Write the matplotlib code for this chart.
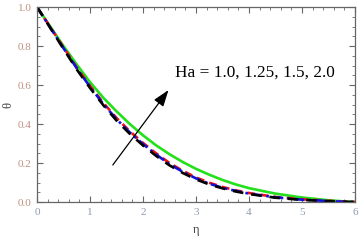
import matplotlib
matplotlib.use("Agg")
import matplotlib.pyplot as plt
from matplotlib.ticker import MultipleLocator

eta = [0, 0.25, 0.5, 0.75, 1.0, 1.25, 1.5, 1.75, 2.0, 2.25, 2.5, 2.75, 3.0, 3.25, 3.5, 3.75, 4.0, 4.5, 5.0, 5.5, 5.8, 6.0]
theta_ha_10 = [1.0, 0.893, 0.785, 0.68, 0.585, 0.497, 0.418, 0.35, 0.29, 0.236, 0.188, 0.149, 0.116, 0.09, 0.07, 0.054, 0.041, 0.022, 0.011, 0.004, 0.001, 0.0]
theta_ha_125 = [1.0, 0.895, 0.789, 0.686, 0.591, 0.503, 0.425, 0.357, 0.297, 0.243, 0.194, 0.155, 0.121, 0.094, 0.073, 0.057, 0.043, 0.024, 0.012, 0.005, 0.001, 0.0]
theta_ha_15 = [1.0, 0.897, 0.793, 0.69, 0.596, 0.509, 0.431, 0.363, 0.303, 0.249, 0.2, 0.16, 0.126, 0.099, 0.077, 0.06, 0.046, 0.026, 0.014, 0.006, 0.002, 0.0]
theta_ha_20 = [1.0, 0.90, 0.80, 0.705, 0.615, 0.535, 0.465, 0.40, 0.342, 0.29, 0.245, 0.205, 0.17, 0.14, 0.113, 0.09, 0.071, 0.043, 0.023, 0.009, 0.003, 0.0]
label_text = "Ha = 1.0, 1.25, 1.5, 2.0"

fig = plt.figure(figsize=(3.61, 2.41), dpi=100)
ax = fig.add_axes([0.1025, 0.1618, 0.881, 0.809])

ax.plot(eta, theta_ha_20, color="#22e01a", lw=1.9)
ax.plot(eta, theta_ha_15, color="#ee1111", lw=1.9, dashes=(3, 2))
ax.plot(eta, theta_ha_125, color="#1111dd", lw=1.9, dashes=(4, 1.5, 1, 1.5))
ax.plot(eta, theta_ha_10, color="black", lw=1.9, dashes=(4, 3))

ax.annotate("", xy=(2.48, 0.574), xytext=(1.43, 0.19),
            arrowprops=dict(arrowstyle="-|>,head_length=1.0,head_width=0.35",
                            color="black", lw=0.9, shrinkA=0, shrinkB=0))
ax.text(2.6, 0.665, label_text, fontsize=12.4, family="Liberation Serif",
        va="center", ha="left")

ax.set_xlim(0, 6)
ax.set_ylim(0, 1.0)
ax.xaxis.set_minor_locator(MultipleLocator(0.2))
ax.yaxis.set_minor_locator(MultipleLocator(0.05))
ax.set_xticks([0, 1, 2, 3, 4, 5, 6])
ax.set_xticklabels(["0", "1", "2", "3", "4", "5", "6"])
ax.set_yticks([0, 0.2, 0.4, 0.6, 0.8, 1.0])
ax.set_yticklabels(["0.0", "0.2", "0.4", "0.6", "0.8", "1.0"])
for lab in ax.get_xticklabels():
    lab.set_fontfamily("Liberation Serif")
    lab.set_fontsize(8)
for lab in ax.get_yticklabels():
    lab.set_fontfamily("Liberation Serif")
    lab.set_fontsize(8)

ax.tick_params(which="both", direction="in", top=True, right=True, colors="#666666")
ax.tick_params(which="major", length=4, width=0.8, pad=4)
ax.tick_params(which="minor", length=2.2, width=0.6)
ax.tick_params(axis="x", labelcolor="#8f9ab0")
ax.tick_params(axis="y", labelcolor="#c09080", pad=4)
for s in ax.spines.values():
    s.set_color("#666666")
    s.set_linewidth(0.9)

ax.set_xlabel("η", fontsize=9, family="Liberation Serif", color="#444444")
ax.set_ylabel("θ", fontsize=9, family="Liberation Serif", color="#444444")
ax.xaxis.set_label_coords(0.5, -0.115)
ax.yaxis.set_label_coords(-0.072, 0.5)

fig.savefig("out.png", dpi=100)
